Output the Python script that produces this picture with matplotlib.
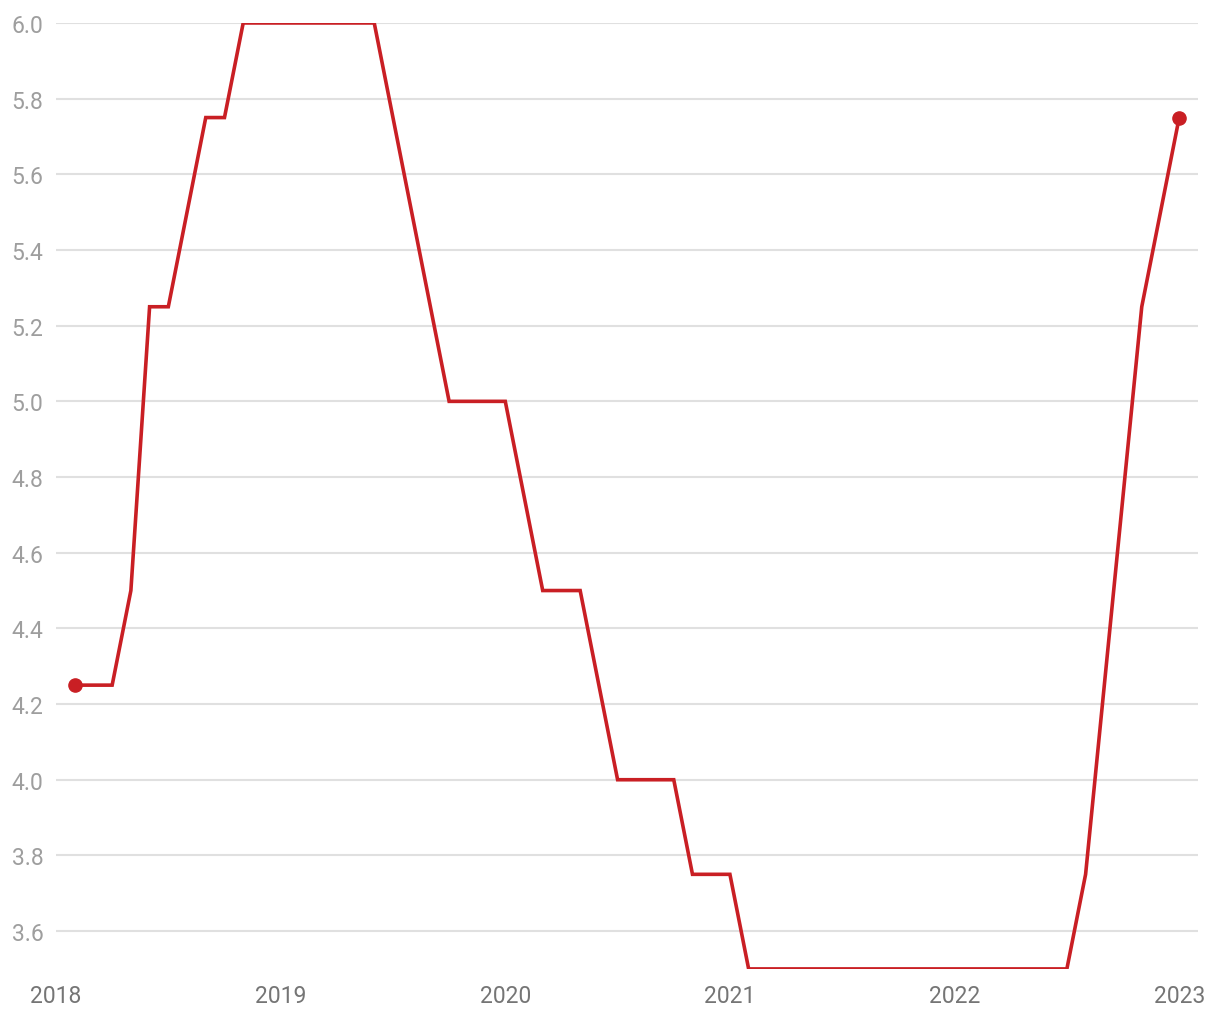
import matplotlib.pyplot as plt
import numpy as np

# monthly rate, Feb 2018 .. Jan 2023
years = [2018] * 11 + [2019] * 12 + [2020] * 12 + [2021] * 12 + [2022] * 12 + [2023]
months = list(range(2, 13)) + list(range(1, 13)) * 4 + [1]
rate = [
    4.25, 4.25, 4.25, 4.5, 5.25, 5.25, 5.5, 5.75, 5.75, 6.0, 6.0,
    6.0, 6.0, 6.0, 6.0, 6.0, 6.0, 5.75, 5.5, 5.25, 5.0, 5.0, 5.0,
    5.0, 4.75, 4.5, 4.5, 4.5, 4.25, 4.0, 4.0, 4.0, 4.0, 3.75, 3.75,
    3.75, 3.5, 3.5, 3.5, 3.5, 3.5, 3.5, 3.5, 3.5, 3.5, 3.5, 3.5,
    3.5, 3.5, 3.5, 3.5, 3.5, 3.5, 3.5, 3.75, 4.25, 4.75, 5.25, 5.5,
    5.75,
]
year_ticks = [2018, 2019, 2020, 2021, 2022, 2023]
y_ticks = [3.6, 3.8, 4.0, 4.2, 4.4, 4.6, 4.8, 5.0, 5.2, 5.4, 5.6, 5.8, 6.0]

plt.rcParams['font.family'] = ['Roboto', 'DejaVu Sans']

t = np.array(years) + (np.array(months) - 1) / 12.0

fig = plt.figure(figsize=(12.2, 10.2), dpi=100)
ax = fig.add_axes([0.0459, 0.0491, 0.936, 0.9274])

red = '#c91f24'
ax.plot(t, rate, color=red, linewidth=2.6, solid_joinstyle='miter', zorder=3)
ax.plot([t[0], t[-1]], [rate[0], rate[-1]], 'o', color=red, markersize=9.5, zorder=4)

ax.set_xlim(2018.0, 2023.0 + 1 / 12)
ax.set_ylim(3.5, 6.0)
ax.set_xticks(year_ticks)
ax.set_xticklabels([str(y) for y in year_ticks])
ax.set_yticks(y_ticks)
ax.set_yticklabels(['%.1f' % v for v in y_ticks])

ax.grid(axis='y', color='#e0e0e0', linewidth=1.5, zorder=0)
for s in ax.spines.values():
    s.set_visible(False)
ax.tick_params(axis='both', length=0)
ax.tick_params(axis='y', pad=9, labelsize=16.5, labelcolor='#9e9e9e')
ax.tick_params(axis='x', pad=11, labelsize=16.5, labelcolor='#757575')

fig.savefig('out.png', dpi=100)
